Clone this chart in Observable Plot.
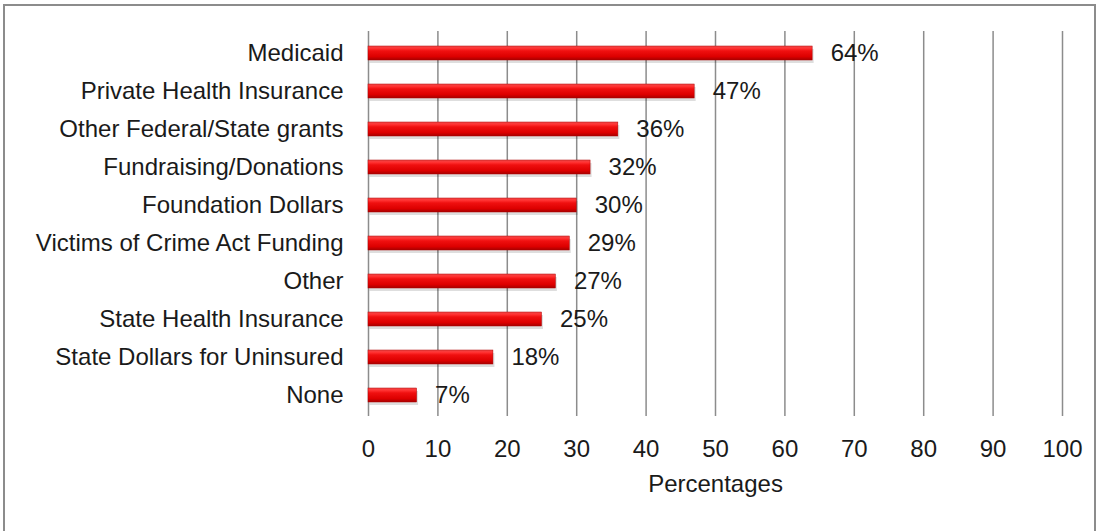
<!DOCTYPE html>
<html>
<head>
<meta charset="utf-8">
<script src="https://cdn.jsdelivr.net/npm/d3@7"></script>
<script src="https://cdn.jsdelivr.net/npm/@observablehq/plot@0.6"></script>
<style>
  html, body { margin: 0; padding: 0; background: #fff; overflow: hidden; }
  #wrap { position: relative; width: 1103px; height: 531px; }
  #frame { position: absolute; left: 3px; top: 4px; width: 1093px; height: 540px; border: 2px solid #8c8c8c; box-sizing: border-box; pointer-events: none; }
  #chart { position: absolute; left: 0; top: 0; }
</style>
</head>
<body>
<div id="wrap"><div id="chart"></div><div id="frame"></div></div>
<script>
const categories = [
  "Medicaid",
  "Private Health Insurance",
  "Other Federal/State grants",
  "Fundraising/Donations",
  "Foundation Dollars",
  "Victims of Crime Act Funding",
  "Other",
  "State Health Insurance",
  "State Dollars for Uninsured",
  "None"
];
const values = [64, 47, 36, 32, 30, 29, 27, 25, 18, 7];
const xTicks = [0, 10, 20, 30, 40, 50, 60, 70, 80, 90, 100];

const data = categories.map((c, i) => ({category: c, value: values[i]}));

const chart = Plot.plot({
  width: 1103,
  height: 531,
  marginLeft: 368,
  marginRight: 41,
  marginTop: 31,
  marginBottom: 115,
  style: {fontFamily: "'Liberation Sans', Arial, sans-serif", fontSize: "24px", color: "#1a1a1a", background: "transparent"},
  x: {domain: [0, 100]},
  y: {domain: categories, paddingInner: 0.634, paddingOuter: 0.317},
  marks: [
    Plot.ruleX(xTicks, {stroke: "#8c8c8c", strokeWidth: 1.5, strokeOpacity: 1}),
    Plot.ruleY([0], {frameAnchor: "bottom", stroke: "#8c8c8c", strokeWidth: 1.5}),
    Plot.barX(data, {x: "value", y: "category", fill: "#000", fillOpacity: 0.13, dx: 1.5, dy: 3}),
    Plot.barX(data, {x: "value", y: "category", fill: "url(#barGrad)", stroke: "#b00000", strokeWidth: 0.5}),
    Plot.text(data, {x: "value", y: "category", text: d => d.value + "%", textAnchor: "start", dx: 18, fontSize: 24, fill: "#1a1a1a"}),
    Plot.axisX({ticks: xTicks, tickSize: 0, tickPadding: 23, fontSize: 24, fill: "#1a1a1a", label: "Percentages", labelAnchor: "center", labelArrow: "none", labelOffset: 75}),
    Plot.axisY({tickSize: 0, tickPadding: 25, fontSize: 24, fill: "#1a1a1a", label: null})
  ]
});

// gradient defs for the 3D bar look
const svgNS = "http://www.w3.org/2000/svg";
const defs = document.createElementNS(svgNS, "defs");
defs.innerHTML = `
  <linearGradient id="barGrad" x1="0" y1="0" x2="0" y2="1">
    <stop offset="0" stop-color="#f04a4a"/>
    <stop offset="0.18" stop-color="#ff3030"/>
    <stop offset="0.35" stop-color="#f01010"/>
    <stop offset="0.75" stop-color="#dd0000"/>
    <stop offset="1" stop-color="#a80000"/>
  </linearGradient>`;
chart.insertBefore(defs, chart.firstChild);
document.getElementById("chart").appendChild(chart);
</script>
</body>
</html>
